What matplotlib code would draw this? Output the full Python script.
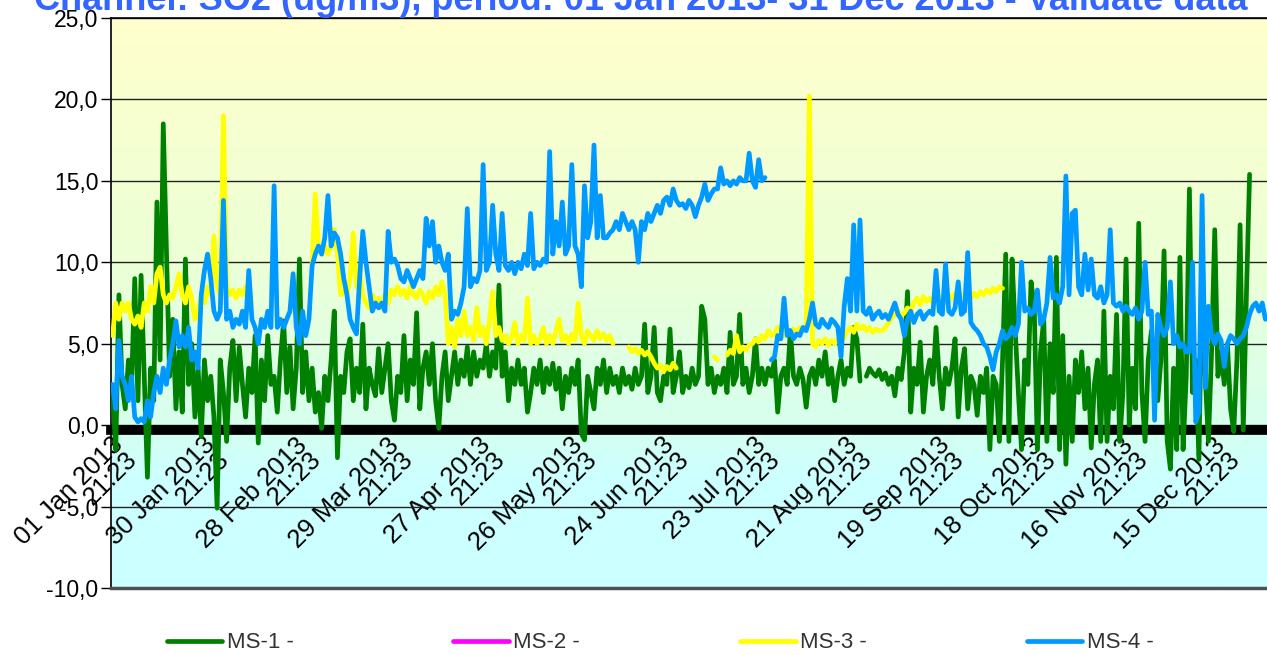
import matplotlib
matplotlib.use("Agg")
import matplotlib.pyplot as plt
import matplotlib.dates as mdates
from matplotlib.ticker import FuncFormatter
import numpy as np
import pandas as pd

plt.rcParams['font.family'] = ['Liberation Sans', 'DejaVu Sans']

nan = np.nan

# daily values (ug/m3), one list per month
ms1 = (
    [2.0, -1.5, 8.0, 2.5, 1.0, 4.0, 2.5, 9.0, 1.5, 9.2, 3.0, -3.2, 3.5, 1.5, 13.7, 4.0,
     18.5, 10.8, 3.0, 6.5, 1.0, 4.5, 0.8, 10.2, 2.5, 5.0, 0.5, 3.5, -0.7, 4.0, 1.5]
    + [3.0, 0.5, -5.1, 4.0, 2.0, -1.0, 3.5, 5.2, 1.5, 4.8, 2.5, 0.5, 3.5, 2.0, 5.5, -1.1,
       4.0, 1.5, 5.5, 2.5, 3.0, 0.8, 4.0, 6.4, 2.0, 4.8, 1.0, 3.5]
    + [10.2, 2.0, 4.5, 1.5, 3.5, 0.8, 2.0, -0.2, 3.0, 1.5, 4.0, 7.0, -2.0, 3.0, 2.0, 4.5,
       5.3, 1.5, 3.5, 2.0, 6.2, 1.0, 3.5, 2.5, 1.8, 4.7, 2.0, 3.5, 5.0, 1.5, 0.3]
    + [3.0, 2.0, 5.5, 1.5, 4.0, 2.5, 6.9, 1.0, 3.5, 4.5, 2.5, 5.0, 1.5, -0.2, 3.0, 4.5,
       1.5, 3.0, 4.5, 2.5, 4.0, 3.0, 4.8, 2.5, 4.5, 3.0, 4.0, 3.5, 5.0, 3.0]
    + [4.5, 3.5, 8.6, 3.0, 4.5, 1.5, 3.5, 2.5, 4.0, 2.5, 3.5, 0.8, 2.0, 3.5, 2.5, 4.0,
       2.0, 3.5, 2.5, 3.8, 2.2, 3.5, 1.0, 3.0, 2.0, 3.5, 2.5, 4.0, -0.5, -0.9, 3.0]
    + [2.0, 1.0, 3.5, 2.5, 4.0, 2.0, 3.5, 2.5, 3.0, 2.0, 3.5, 2.5, 3.0, 2.2, 3.5, 2.5,
       3.0, 6.2, 2.0, 3.0, 6.0, 2.0, 1.5, 3.0, 2.5, 5.9, 2.0, 3.0, 4.5, 2.0]
    + [3.0, 2.3, 3.5, 2.5, 3.0, 7.3, 6.5, 2.5, 3.5, 2.0, 3.0, 2.5, 3.5, 2.0, 5.7, 2.5,
       3.0, 6.8, 2.5, 3.5, 2.0, 3.0, 5.3, 2.5, 3.5, 2.5, 3.5, 3.0, 4.0, 0.8, 3.0]
    + [3.5, 2.5, 5.8, 3.0, 2.5, 3.5, 2.8, 1.1, 3.0, 3.5, 2.5, 4.0, 3.0, 4.5, 2.5, 3.5,
       1.5, 3.0, 4.0, 2.5, 3.5, 3.0, 6.0, 5.3, 2.7, nan, 3.0, 3.5, 3.2, 3.0, 3.4]
    + [2.8, 3.2, 2.5, 3.0, 1.8, 3.5, 2.8, 4.5, 8.2, 0.8, 3.5, 2.5, 5.1, 0.8, 3.0, 4.0,
       2.5, 6.0, 3.0, 1.0, 3.5, 2.5, 3.5, 5.3, 0.5, 3.5, 4.7, 1.0, 3.0, 2.5]
    + [0.6, 3.0, 2.0, 3.5, -1.5, 3.0, 2.5, -1.0, 4.0, 10.5, -1.0, 10.2, 5.8, 2.0, -1.5, 4.0,
       2.5, 8.8, 7.3, -1.5, 4.5, 6.5, -1.0, 5.0, 2.0, 10.3, -1.5, 5.5, -2.4, 3.0, -1.0]
    + [4.0, 2.0, 4.5, 1.0, 3.5, -1.4, 2.5, 4.0, -1.0, 7.0, -1.0, 3.0, 1.0, 6.8, -1.0, 2.0,
       10.2, 0.0, 3.5, 1.0, 12.4, 2.0, -1.0, 4.0, 5.8, 3.0, 1.5, 4.0, 10.7, -1.0]
    + [-2.7, 3.5, -1.5, 10.3, -1.5, 3.0, 14.5, 2.0, 4.0, -2.1, 9.7, 3.0, -1.0, 4.5, 12.0, 3.0,
       4.5, 2.5, 5.0, 1.0, -0.4, 4.0, 12.3, -0.3, 8.0, 15.4, nan, nan, nan, nan, nan]
)

ms2 = [nan] * 365

ms3 = (
    [5.5, 7.5, 6.5, 7.5, 7.0, 7.5, 6.5, 6.2, 6.7, 6.0, 7.5, 7.0, 8.5, 7.5, 9.3, 9.7,
     8.0, 7.5, 8.0, 7.8, 8.5, 9.3, 8.0, 7.5, 8.5, 7.8, 6.5, 7.0, 8.0, 7.5, 8.5]
    + [8.0, 11.6, 8.5, 8.0, 19.0, 8.5, 8.0, 8.3, 7.8, 8.3, 8.0, 8.5, 8.0, 7.5] + [nan] * 14
    + [nan, nan, nan, nan, 10.0, 14.2, 11.0, 10.5, 11.0, 10.5, 11.0, 12.0, 10.5, 8.0, 8.2, 8.0,
       9.0, 11.8, 8.5, 9.5, 8.0, 7.5, 7.2, 8.0, 7.5, 7.8, 7.2, 8.0, 7.5, 8.3, 8.0]
    + [8.5, 8.0, 8.3, 7.8, 8.5, 8.0, 7.8, 8.3, 8.0, 7.5, 8.2, 7.8, 8.5, 8.0, 8.8, 8.0,
       5.0, 6.0, 4.8, 6.5, 5.5, 7.0, 5.5, 6.0, 5.2, 7.2, 5.5, 6.0, 5.0, 6.5]
    + [8.2, 5.5, 6.0, 5.2, 5.5, 5.0, 5.4, 6.3, 5.0, 5.5, 5.2, 7.8, 5.0, 5.5, 5.0, 5.3,
       6.0, 5.0, 5.5, 5.0, 5.8, 6.5, 5.2, 5.5, 5.0, 5.6, 5.2, 7.5, 5.5, 5.0, 5.8]
    + [5.5, 5.2, 5.8, 5.3, 5.6, 5.2, 5.5, 5.0, nan, nan, nan, nan, 4.8, 4.5, 4.7, 4.4,
       4.6, 4.3, 4.5, 4.2, 3.8, 3.5, 3.7, 3.3, 3.6, 3.4, 3.8, 3.5, nan, nan]
    + [nan] * 9 + [4.2, 4.0, nan, nan, 4.3, 4.6, 4.4, 5.5, 4.5, 4.8, 4.6, 4.9,
                   5.0, 5.3, 5.1, 5.5, 5.3, 5.8, 5.5, 5.6, 6.0, 5.8]
    + [5.5, 5.8, 5.6, 5.9, 5.7, 6.0, 5.8, 6.0, 20.2, 5.0, 4.8, 5.2, 5.0, 5.3, 4.9, 5.2,
       5.0, 5.3, 5.1, 5.4, 5.8, 6.0, 5.7, 6.2, 5.9, 6.1, 5.8, 6.0, 5.7, 5.9, 5.8]
    + [5.8, 6.0, 6.3, 6.6, 6.8, 7.0, 6.7, 6.9, 7.2, 7.0, 7.5, 7.8, 7.4, 7.9, 7.6, 7.8,
       7.5, 8.0, 7.7, 7.9, 7.6, 8.0, 7.8, 8.1, 7.7, 8.0, 7.9, 8.2, 7.8, 8.1]
    + [7.9, 8.2, 8.0, 8.3, 8.1, 8.4, 8.2, 8.5, 8.4] + [nan] * 22
    + [nan] * 30
    + [nan] * 31
)

ms4 = (
    [2.5, 1.0, 5.2, 3.0, 2.5, 1.5, 3.0, 0.5, 0.2, 0.4, 0.2, 1.5, 0.5, 2.0, 3.0, 2.0,
     3.5, 2.5, 4.0, 5.0, 6.4, 4.8, 5.5, 4.8, 6.0, 4.0, 4.5, 3.5, 8.0, 9.5, 10.5]
    + [9.0, 7.0, 6.5, 7.0, 13.8, 6.5, 7.0, 6.0, 6.5, 6.2, 7.0, 6.0, 9.5, 6.5, 6.0, 5.0,
       6.5, 6.0, 7.0, 6.0, 14.7, 6.0, 6.5, 6.0, 6.5, 7.0, 9.3, 6.0]
    + [5.0, 7.0, 5.5, 6.5, 9.8, 10.5, 11.0, 10.5, 11.5, 14.1, 11.0, 11.8, 11.5, 10.5, 9.0, 8.0,
       6.5, 6.0, 5.6, 9.0, 11.9, 10.0, 8.5, 7.0, 7.5, 7.2, 7.5, 7.0, 11.9, 10.0, 10.2]
    + [9.8, 9.0, 8.8, 9.5, 9.0, 8.5, 9.0, 9.5, 9.0, 12.7, 11.0, 12.5, 10.0, 11.0, 10.0, 9.5,
       10.5, 6.5, 7.0, 6.8, 7.5, 8.5, 13.3, 8.5, 9.0, 8.8, 9.5, 16.0, 9.5, 10.0]
    + [13.5, 10.5, 9.5, 13.0, 9.8, 9.5, 10.0, 9.3, 10.0, 9.6, 10.5, 9.8, 13.0, 9.6, 10.0, 9.8,
       10.2, 10.0, 16.8, 10.5, 12.5, 11.0, 13.7, 10.5, 11.0, 16.0, 11.0, 10.5, 8.5, 14.7, 11.5]
    + [12.5, 17.2, 11.5, 14.1, 11.5, 11.5, 11.8, 12.0, 12.5, 12.0, 13.0, 12.5, 12.0, 12.5, 12.0,
       10.0, 12.5, 12.0, 13.0, 12.5, 13.0, 13.5, 13.0, 13.8, 14.0, 13.5, 14.5, 13.8, 13.5, 13.6]
    + [13.3, 13.8, 13.5, 12.8, 13.5, 14.0, 14.8, 13.8, 14.2, 14.5, 14.5, 15.8, 14.8, 15.0, 14.7,
       15.0, 14.8, 15.2, 15.0, 15.0, 16.7, 15.0, 14.6, 16.3, 15.0, 15.2, nan, 4.0, 4.2, 5.5, 5.3]
    + [7.8, 5.5, 5.8, 5.3, 5.6, 5.5, 6.0, 5.8, 6.5, 7.5, 6.2, 6.0, 6.5, 6.2, 6.0, 6.5,
       6.3, 6.0, 4.2, 7.3, 9.0, 7.0, 12.3, 7.0, 12.6, 7.0, 6.8, 7.2, 6.5, 6.8, 7.0]
    + [6.6, 6.8, 6.5, 7.0, 7.5, 6.8, 6.5, 5.5, 6.5, 7.0, 6.3, 6.8, 7.0, 6.5, 6.8, 7.0,
       6.8, 9.5, 7.0, 6.8, 9.9, 7.0, 6.8, 7.2, 8.8, 6.8, 7.0, 10.6, 6.3, 6.0]
    + [5.8, 5.5, 5.0, 4.8, 4.2, 3.4, 4.5, 5.0, 5.8, 5.3, 5.5, 6.0, 5.5, 6.2, 10.0, 7.0,
       7.2, 6.8, 7.0, 8.3, 6.2, 6.5, 7.5, 10.3, 7.8, 8.0, 7.5, 8.5, 15.3, 8.0, 13.0]
    + [13.2, 8.5, 8.0, 10.5, 8.3, 10.2, 8.0, 7.8, 8.5, 7.5, 8.0, 12.0, 7.5, 7.3, 7.5, 7.0,
       7.3, 7.0, 6.8, 7.2, 6.5, 7.0, 10.0, 6.8, 7.0, 0.3, 6.8, 6.0, 5.5, 6.0]
    + [8.8, 5.0, 5.5, 4.8, 5.0, 4.5, 4.5, 10.0, 0.2, 0.8, 14.1, 2.3, 7.3, 5.5, 5.0, 5.6,
       5.2, 3.6, 5.0, 5.5, 5.3, 5.0, 5.3, 5.5, 6.0, 6.8, 7.3, 7.5, 7.0, 7.5, 6.5]
)

series_names = ['MS-1 -', 'MS-2 -', 'MS-3 -', 'MS-4 -']
series_colors = ['#008000', '#FF00FF', '#FFFF00', '#0099FF']

days = mdates.date2num(pd.date_range('2013-01-01 12:00', periods=365, freq='D'))
tick_dates = pd.date_range('2013-01-01', periods=13, freq='29D')
tick_pos = mdates.date2num(tick_dates)
tick_labels = [d.strftime('%d %b %Y') + '\n21:23' for d in tick_dates]

title = 'Channel: SO2 (ug/m3), period: 01 Jan 2013- 31 Dec 2013 - Validate data'

fig = plt.figure(figsize=(12.67, 6.55), dpi=100)
ax = fig.add_axes([111 / 1267, 1 - 588 / 655, 1156 / 1267, 570 / 655])

x0 = mdates.date2num(pd.Timestamp('2013-01-01'))
x1 = mdates.date2num(pd.Timestamp('2014-01-01'))

# spine positions first, they reset the ticks
ax.spines['bottom'].set_position(('data', -0.3))
ax.spines['bottom'].set_linewidth(7)
ax.spines['bottom'].set_zorder(2.5)
ax.spines['right'].set_visible(False)
ax.spines['left'].set_linewidth(1.2)
ax.spines['top'].set_linewidth(1.2)

# background gradient, yellow on top to cyan below zero
yy = np.linspace(25, -10, 300)
stops_v = [-10, -3, 0, 10, 25]
stops_c = np.array([[204, 255, 255], [204, 255, 255], [214, 255, 238],
                    [236, 255, 214], [255, 255, 204]]) / 255.0
grad = np.stack([np.interp(yy, stops_v, stops_c[:, k]) for k in range(3)], axis=-1)
ax.imshow(grad[:, None, :], extent=[x0, x1, -10, 25], aspect='auto', zorder=0,
          interpolation='bilinear')

for vals, name, col in zip([ms1, ms2, ms3, ms4], series_names, series_colors):
    ax.plot(days, vals, color=col, lw=3.4, label=name, zorder=3,
            solid_capstyle='round', solid_joinstyle='round')

ax.set_xlim(x0, x1)
ax.set_ylim(-10, 25)
ax.set_yticks(np.arange(-10, 26, 5))
ax.yaxis.set_major_formatter(FuncFormatter(lambda v, p: f'{v:.1f}'.replace('.', ',')))
ax.grid(axis='y', color='#222222', lw=1.0, zorder=1)
ax.set_axisbelow(True)

ax.tick_params(axis='x', length=0, pad=2)
ax.tick_params(axis='y', length=7, width=1, labelsize=16.5, pad=2, colors='black')
ax.set_xticks(tick_pos)
ax.set_xticklabels(tick_labels, rotation=45, ha='right', rotation_mode='anchor',
                   fontsize=18.5, linespacing=0.8)

ax.axhline(-10, color='#505050', lw=2.5, clip_on=False, zorder=4)

fig.text(0.506, 1 - 10 / 655, title, ha='center', va='baseline', fontsize=26,
         fontweight='bold', color='#3366FF')

fig.legend(loc='center', bbox_to_anchor=(0.521, 1 - 643 / 655), ncol=4, frameon=False,
           fontsize=16, handlelength=2.5, handletextpad=0.2, columnspacing=7.2,
           labelcolor='#333333')

fig.savefig('out.png', dpi=100)
